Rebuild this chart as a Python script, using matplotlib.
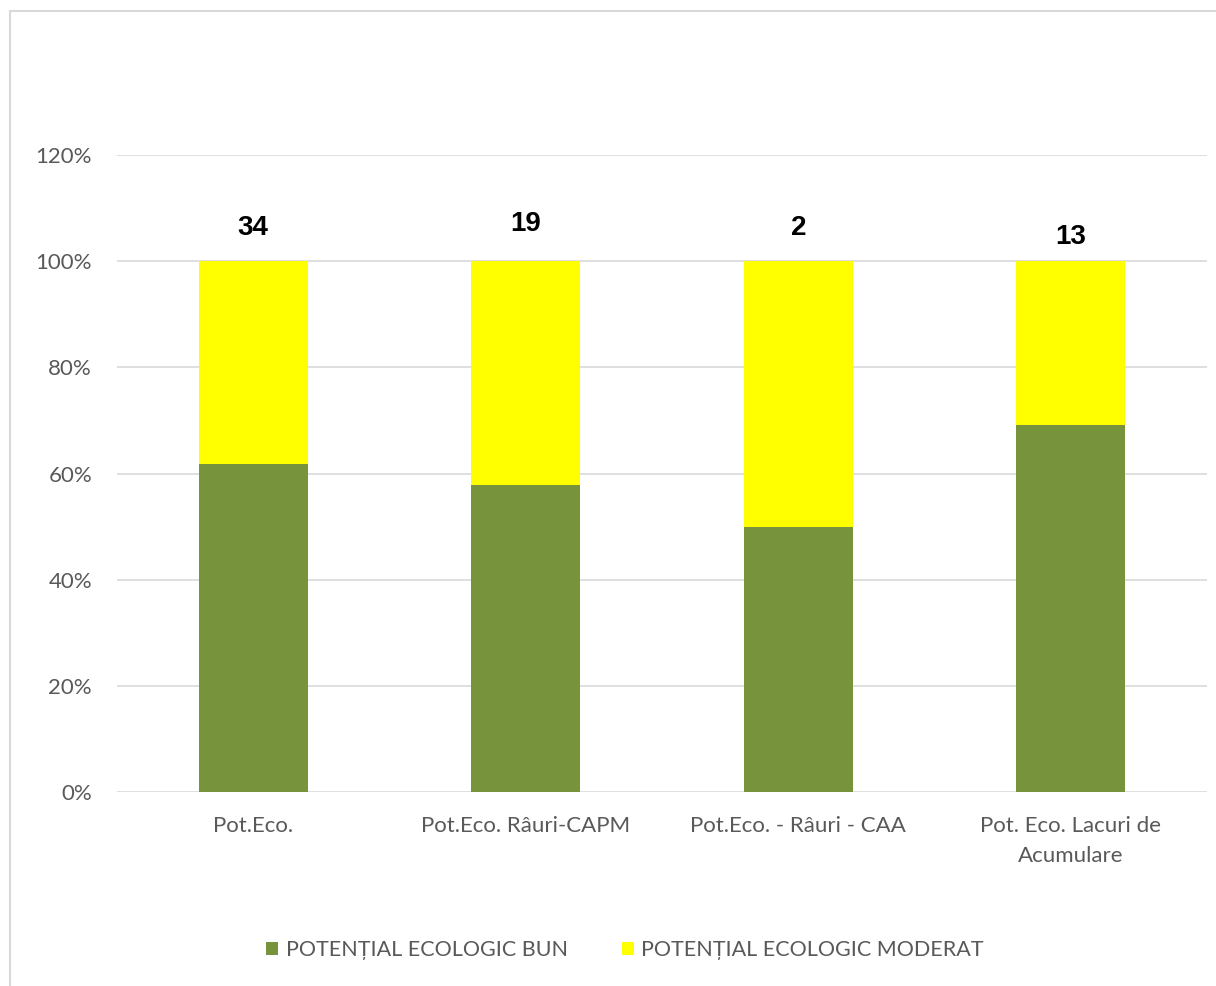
import matplotlib.pyplot as plt
from matplotlib.patches import Rectangle
from matplotlib.ticker import PercentFormatter
import numpy as np

categories = ["Pot.Eco.", "Pot.Eco. Râuri-CAPM", "Pot.Eco. - Râuri - CAA",
              "Pot. Eco. Lacuri de\nAcumulare"]
bun = [21, 11, 1, 9]
moderat = [13, 8, 1, 4]
totals = [34, 19, 2, 13]
label_y = [1.063, 1.07, 1.063, 1.046]

plt.rcParams['font.family'] = ['Lato', 'DejaVu Sans']

bun_a = np.array(bun, dtype=float)
mod_a = np.array(moderat, dtype=float)
tot = bun_a + mod_a
p_bun = bun_a / tot
p_mod = mod_a / tot

fig = plt.figure(figsize=(12.16, 9.86), dpi=100)
fig.patches.append(Rectangle((10 / 1216, -0.1), 1.2, (975 / 986) + 0.1,
                             transform=fig.transFigure, fill=False,
                             edgecolor='#d9d9d9', linewidth=1.5))
ax = fig.add_axes([117 / 1216, 194 / 986, 1090 / 1216, 637 / 986])

x = np.arange(len(categories))
ax.bar(x, p_bun, width=0.4, color='#77933C', label='POTENȚIAL ECOLOGIC BUN', zorder=3)
ax.bar(x, p_mod, width=0.4, bottom=p_bun, color='#FFFF00',
       label='POTENȚIAL ECOLOGIC MODERAT', zorder=3)

for xi, t, yy in zip(x, totals, label_y):
    ax.text(xi, yy, str(t), ha='center', va='center', fontsize=20,
            fontweight='bold', family='Liberation Sans', color='black')

ax.set_xlim(-0.5, len(categories) - 0.5)
ax.set_ylim(0, 1.2)
ax.set_yticks(np.arange(0, 1.21, 0.2))
ax.yaxis.set_major_formatter(PercentFormatter(1.0, decimals=0))
ax.grid(axis='y', color='#d9d9d9', linewidth=1.2, zorder=0)
for s in ax.spines.values():
    s.set_visible(False)
ax.tick_params(axis='both', length=0, labelsize=16, labelcolor='#595959')
ax.tick_params(axis='y', pad=18)
ax.tick_params(axis='x', pad=17)
ax.set_xticks(x)
ax.set_xticklabels(categories, linespacing=1.65)

fig.legend(loc='center', bbox_to_anchor=(625 / 1216, 1 - 950 / 986), ncol=2,
           frameon=False, fontsize=15.5, labelcolor='#595959', handlelength=0.55,
           handleheight=0.55, handletextpad=0.35, columnspacing=2.5)

fig.savefig('out.png', dpi=100, facecolor='white')
